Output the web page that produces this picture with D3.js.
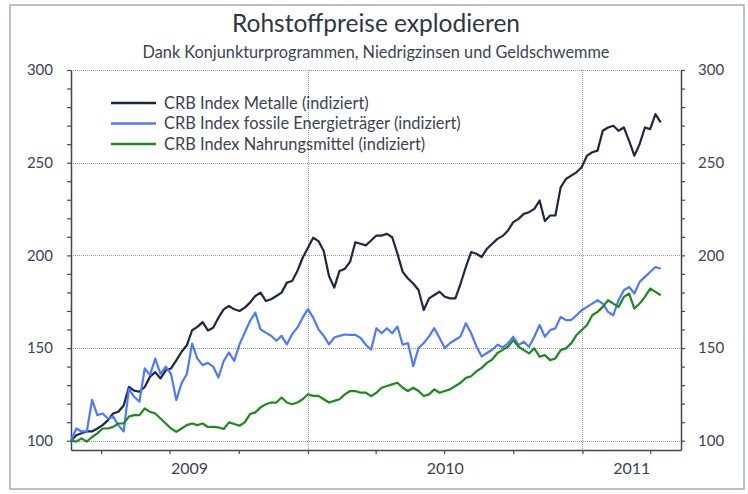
<!DOCTYPE html>
<html>
<head>
<meta charset="utf-8">
<script src="https://cdn.jsdelivr.net/npm/d3@7"></script>
<style>
body { margin: 0; background: #fff; }
svg text { font-family: Lato, "Open Sans", sans-serif; fill: #3a4352; }
</style>
</head>
<body>
<svg id="chart" width="748" height="494"></svg>
<script>
// weekly values, indexed (start = 100)
var startDate = new Date(2009, 1, 20);
var endDate = new Date(2011, 4, 12);

var metals = [100, 103, 104, 105, 105, 106.6, 108.4, 111, 114.7, 115.6,
    119, 129, 127, 126.4, 129, 134.5, 137, 133.6, 138, 139,
    143.4, 148, 151.5, 159.6, 161.4, 164, 159.5, 161, 166.4, 170.9,
    172.7, 170.9, 170, 171.8, 174.5, 178.1, 179.9, 175.4, 176.3, 178.1,
    179.9, 185.3, 186.2, 191.6, 198.7, 204.1, 209.5, 207.7, 202.3, 188.9,
    182.6, 191.6, 192.7, 196.5, 207.1, 206.3, 205.4, 208, 210.7, 210.7,
    211.6, 209.8, 200.9, 191.1, 187.5, 184.8, 181.3, 170.5, 176.8, 178.6,
    180.4, 177.7, 176.8, 176.8, 184.8, 193.8, 201.8, 200.9, 199.1, 203.6,
    206.3, 208.9, 210.5, 213.4, 217.9, 219.7, 222.4, 223.3, 225.1, 229.6,
    218.5, 221.5, 221.5, 236.7, 241.2, 243, 244.8, 247.5, 253.8, 255.6,
    256.5, 267.2, 269, 269.9, 267.2, 269, 261.8, 253.8, 260, 269,
    268.1, 276.2, 271.7];

var energy = [100, 106.6, 105, 105, 122, 113.8, 114.7, 112, 113, 108.4,
    105, 128, 123.7, 121, 139, 135.4, 144.3, 136, 139.9, 136,
    121.9, 131, 136, 152.4, 144.3, 140.8, 142, 140, 134.1, 143,
    147.6, 143, 152, 158.3, 164.6, 169.1, 160.1, 158.3, 156.6, 153.9,
    156.6, 152, 157.5, 161, 166.4, 171, 166.4, 160.1, 156.6, 152,
    155.7, 156.6, 157.3, 157.1, 157.1, 155.4, 151.8, 149.1, 160.7, 158,
    160.7, 158, 161.6, 151.8, 152.7, 140.2, 150, 152.7, 156.3, 160.7,
    155.4, 150, 152.7, 154.5, 156.3, 163.4, 158, 150.9, 145.5, 147.3,
    149.1, 151.8, 150.4, 152.5, 156.1, 151.6, 153.4, 150.7, 156.1, 162.4,
    156.1, 159.7, 160.6, 166.8, 165.1, 165.1, 167.7, 170.4, 172.2, 174,
    175.8, 174, 169.5, 167.7, 175.8, 181.2, 183, 179.4, 185.7, 188.4,
    191, 193.7, 192.8];

var food = [100, 99.5, 101.3, 99.5, 102, 104, 106.6, 106.6, 107.5, 109.3,
    109.3, 113, 113.8, 113.8, 117.4, 115.6, 114.7, 112, 109.3, 106.6,
    104.8, 106.6, 108.4, 109.3, 108.4, 109.3, 107.4, 107.5, 107.2, 106.3,
    109.9, 109, 108.1, 109.9, 114.4, 115.3, 118, 119.7, 120.6, 120.6,
    123.3, 120.6, 119.7, 120.6, 122.4, 125.1, 124.2, 124.2, 122.4, 120.6,
    121.5, 122.4, 125, 126.8, 126.8, 125.9, 125.9, 124.1, 125.9, 128.6,
    129.5, 130.4, 131.3, 128.6, 126.8, 128.6, 126.8, 124.1, 125, 127.7,
    125.9, 126.8, 127.7, 129.5, 131.3, 133.9, 134.8, 137.5, 139.3, 142,
    143.8, 147.3, 149, 150.7, 154.3, 150.7, 148.9, 147.1, 149.8, 145.3,
    146.2, 143.5, 144.4, 148.9, 149.8, 152.5, 157, 159.7, 162.4, 167.7,
    169.5, 172.2, 175.8, 174, 172.2, 177.6, 179.4, 171.3, 174, 177.6,
    182.1, 180.3, 178.5];

var seriesNames = ["CRB Index Metalle (indiziert)",
    "CRB Index fossile Energieträger (indiziert)",
    "CRB Index Nahrungsmittel (indiziert)"];
var seriesColors = ["#1c2742", "#4d78ff", "#1d8a1d"];
var years = [2009, 2010, 2011];
var yLabelTicks = [100, 150, 200, 250, 300];

var svg = d3.select("#chart");

var x = d3.scaleTime().domain([startDate, endDate]).range([71, 681]);
var y = d3.scaleLinear().domain([95, 300]).range([450, 70]);

var dates = metals.map(function (d, i) {
    return d3.timeDay.offset(startDate, 7 * i);
});

// outer frame
svg.append("rect")
    .attr("x", 10).attr("y", 5)
    .attr("width", 734).attr("height", 484)
    .attr("fill", "none")
    .attr("stroke", "#a4acb6")
    .attr("stroke-width", 1.5);

svg.append("text")
    .attr("x", 376).attr("y", 32)
    .attr("text-anchor", "middle")
    .style("font-size", "24.5px")
    .style("fill", "#2e3644")
    .text("Rohstoffpreise explodieren");

svg.append("text")
    .attr("x", 376).attr("y", 58)
    .attr("text-anchor", "middle")
    .style("font-size", "16.3px")
    .text("Dank Konjunkturprogrammen, Niedrigzinsen und Geldschwemme");

// dotted grid
var grid = svg.append("g")
    .attr("stroke", "#9a9a9a")
    .attr("stroke-width", 1)
    .attr("stroke-dasharray", "1,1");

grid.selectAll("line.h").data(yLabelTicks).enter().append("line")
    .attr("class", "h")
    .attr("x1", x.range()[0]).attr("x2", x.range()[1])
    .attr("y1", function (d) { return Math.round(y(d)) + 0.5; })
    .attr("y2", function (d) { return Math.round(y(d)) + 0.5; });

grid.selectAll("line.v").data(years.slice(1)).enter().append("line")
    .attr("class", "v")
    .attr("x1", function (d) { return Math.round(x(new Date(d, 0, 1))) + 0.5; })
    .attr("x2", function (d) { return Math.round(x(new Date(d, 0, 1))) + 0.5; })
    .attr("y1", y.range()[1]).attr("y2", y.range()[0]);

// axes
function labelFormat(d) {
    return d % 50 === 0 ? d : "";
}

var leftAxis = d3.axisLeft(y)
    .tickValues(d3.range(100, 301, 10))
    .tickSize(4).tickSizeOuter(0).tickPadding(14)
    .tickFormat(labelFormat);

var rightAxis = d3.axisRight(y)
    .tickValues(d3.range(100, 301, 10))
    .tickSize(4).tickSizeOuter(0).tickPadding(13)
    .tickFormat(labelFormat);

var bottomAxis = d3.axisBottom(x)
    .ticks(d3.timeMonth.every(3))
    .tickSize(4).tickSizeOuter(0)
    .tickFormat("");

var gl = svg.append("g").attr("transform", "translate(71,0)").call(leftAxis);
var gr = svg.append("g").attr("transform", "translate(681,0)").call(rightAxis);
var gb = svg.append("g").attr("transform", "translate(0,450)").call(bottomAxis);

[gl, gr, gb].forEach(function (g) {
    g.select(".domain").attr("stroke", "#3b4759").attr("stroke-width", 1.5);
    g.selectAll(".tick line").attr("stroke", "#3b4759").attr("stroke-width", 1.2);
    g.selectAll(".tick text")
        .style("font-family", "Lato, 'Open Sans', sans-serif")
        .style("font-size", "15px")
        .attr("fill", "#3a4352");
});

// year labels centred on the visible part of each year
svg.selectAll("text.year").data(years).enter().append("text")
    .attr("class", "year")
    .attr("x", function (d) {
        var a = new Date(Math.max(new Date(d, 0, 1), startDate));
        var b = new Date(Math.min(new Date(d + 1, 0, 1), endDate));
        return (x(a) + x(b)) / 2;
    })
    .attr("y", 474)
    .attr("text-anchor", "middle")
    .style("font-size", "16px")
    .text(function (d) { return d; });

// lines
var line = d3.line()
    .x(function (d, i) { return x(dates[i]); })
    .y(function (d) { return y(d); });

var allSeries = [metals, energy, food];

svg.selectAll("path.series").data(allSeries).enter().append("path")
    .attr("class", "series")
    .attr("d", line)
    .attr("fill", "none")
    .attr("stroke", function (d, i) { return seriesColors[i]; })
    .attr("stroke-width", 2.2)
    .attr("stroke-linejoin", "round");

// legend
var legend = svg.selectAll("g.legend").data(seriesNames).enter().append("g")
    .attr("class", "legend")
    .attr("transform", function (d, i) { return "translate(111," + (103 + i * 20.5) + ")"; });

legend.append("line")
    .attr("x1", 0).attr("x2", 45)
    .attr("stroke", function (d, i) { return seriesColors[i]; })
    .attr("stroke-width", 2.5);

legend.append("text")
    .attr("x", 53).attr("y", 5.5)
    .style("font-size", "16.4px")
    .text(function (d) { return d; });
</script>
</body>
</html>
